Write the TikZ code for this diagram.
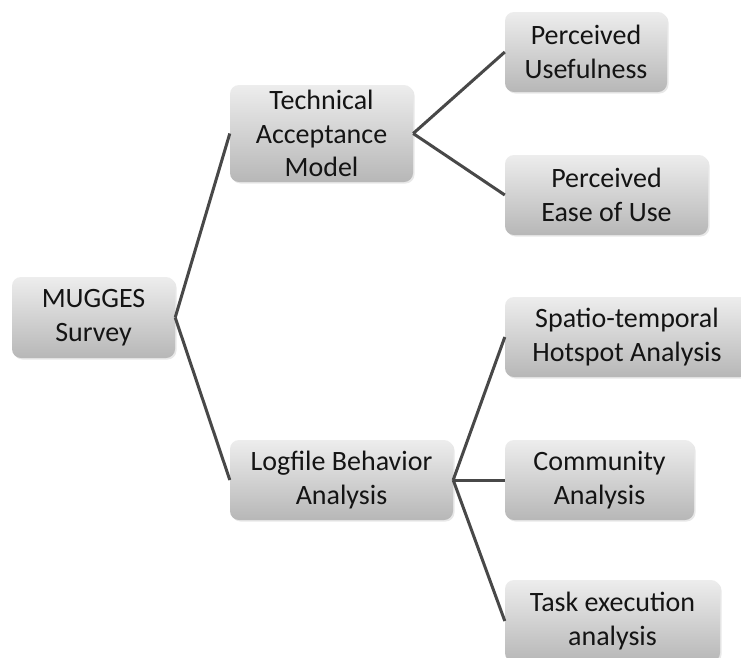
\documentclass[tikz,border=0pt]{standalone}
\usepackage{fontspec}
\setmainfont{Carlito}
\usetikzlibrary{shadows}
\definecolor{linkgray}{HTML}{484848}
\definecolor{boxtop}{HTML}{EDEDED}
\definecolor{boxbot}{HTML}{B7B7B7}
\definecolor{txt}{HTML}{141414}
\begin{document}
\begin{tikzpicture}[x=1pt,y=-1pt,
  box/.style={rounded corners=9pt, top color=boxtop, bottom color=boxbot, draw=none,
    align=center, font=\fontsize{28}{33.5}\selectfont, text=txt, inner sep=1pt,
    drop shadow={opacity=0.18, shadow xshift=1.5pt, shadow yshift=-1.5pt}},
  link/.style={draw=linkgray, line width=3pt}]
\useasboundingbox (0,0) rectangle (741,657);
\clip (0,0) rectangle (741,657);
\fill[white] (0,0) rectangle (741,657);
\node[box, minimum width=163pt, minimum height=81pt] (mug) at (93.5,317.5) {MUGGES\\Survey};
\node[box, minimum width=183pt, minimum height=97pt] (tam) at (321.5,133.5) {Technical\\Acceptance\\Model};
\node[box, minimum width=162pt, minimum height=80pt] (pu) at (586,52) {Perceived\\Usefulness};
\node[box, minimum width=203pt, minimum height=80pt] (peu) at (606.5,195) {Perceived\\Ease of Use};
\node[box, minimum width=223pt, minimum height=80pt] (log) at (341.5,480) {Logfile Behavior\\Analysis};
\node[box, minimum width=244pt, minimum height=80pt] (spa) at (627,337) {Spatio-temporal\\Hotspot Analysis};
\node[box, minimum width=189pt, minimum height=80pt] (com) at (599.5,480) {Community\\Analysis};
\node[box, minimum width=215pt, minimum height=82pt] (task) at (612.5,621) {Task execution\\analysis};
\draw[link] (mug.east) -- (tam.west);
\draw[link] (mug.east) -- (log.west);
\draw[link] (tam.east) -- (pu.west);
\draw[link] (tam.east) -- (peu.west);
\draw[link] (log.east) -- (spa.west);
\draw[link] (log.east) -- (com.west);
\draw[link] (log.east) -- (task.west);
\end{tikzpicture}
\end{document}
